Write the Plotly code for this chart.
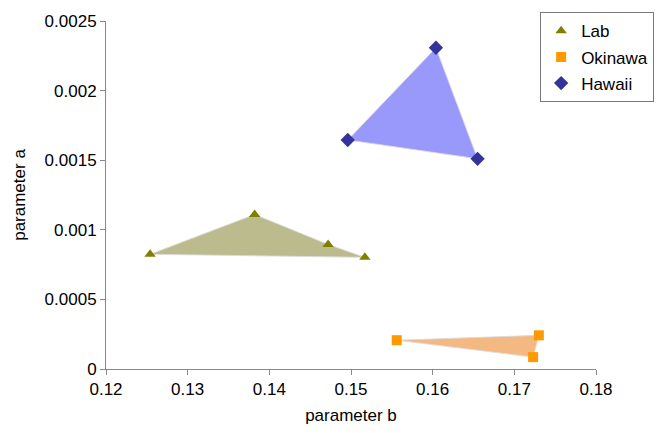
import plotly.graph_objects as go

lab_b = [0.1254, 0.1382, 0.1472, 0.1517]
lab_a = [0.000824, 0.00111, 0.000895, 0.000802]
oki_b = [0.1556, 0.1730, 0.1723]
oki_a = [0.000207, 0.000242, 0.0000855]
haw_b = [0.1496, 0.1604, 0.1655]
haw_a = [0.001645, 0.002308, 0.00151]

x_ticks = [0.12, 0.13, 0.14, 0.15, 0.16, 0.17, 0.18]
x_labels = ["0.12", "0.13", "0.14", "0.15", "0.16", "0.17", "0.18"]
y_ticks = [0, 0.0005, 0.001, 0.0015, 0.002, 0.0025]
y_labels = ["0", "0.0005", "0.001", "0.0015", "0.002", "0.0025"]

series = [
    ("Lab", lab_b, lab_a, "#808000", "rgba(150,150,80,0.65)", "triangle-up", 10),
    ("Okinawa", oki_b, oki_a, "#FF9900", "rgba(240,160,90,0.75)", "square", 10),
    ("Hawaii", haw_b, haw_a, "#333399", "rgba(110,110,250,0.7)", "diamond", 11),
]

fig = go.Figure()
for name, xs, ys, mc, fc, sym, sz in series:
    fig.add_trace(go.Scatter(
        x=xs + [xs[0]], y=ys + [ys[0]], mode="lines", fill="toself",
        fillcolor=fc, line=dict(color="rgba(220,220,220,0.9)", width=1),
        showlegend=False, hoverinfo="skip"))
for name, xs, ys, mc, fc, sym, sz in series:
    fig.add_trace(go.Scatter(
        x=xs, y=ys, mode="markers", name=name, legendgroup=name,
        marker=dict(symbol=sym, color=mc, size=sz)))

fig.update_layout(
    width=667, height=433,
    margin=dict(l=106, r=71, t=19, b=64),
    paper_bgcolor="white", plot_bgcolor="white",
    font=dict(family="Liberation Sans, Arial, sans-serif", size=17, color="black"),
    legend=dict(x=0.886, y=1.025, xanchor="left", yanchor="top",
                bordercolor="#777777", borderwidth=1, bgcolor="white",
                font=dict(size=17), itemwidth=30, tracegroupgap=1,
                entrywidth=95),
    xaxis=dict(range=[0.12, 0.18], tickvals=x_ticks, ticktext=x_labels,
               showgrid=False, zeroline=False, showline=True, linecolor="#888888",
               ticks="outside", tickcolor="#888888", ticklen=5,
               title=dict(text="parameter b", font=dict(size=17), standoff=10)),
    yaxis=dict(range=[0, 0.0025], tickvals=y_ticks, ticktext=y_labels,
               showgrid=False, zeroline=False, showline=True, linecolor="#888888",
               ticks="outside", tickcolor="#888888", ticklen=5,
               title=dict(text="parameter a", font=dict(size=17), standoff=14)),
)

fig.write_html("out.html", post_script="document.body.style.margin='0';",
               config={"displayModeBar": False})
